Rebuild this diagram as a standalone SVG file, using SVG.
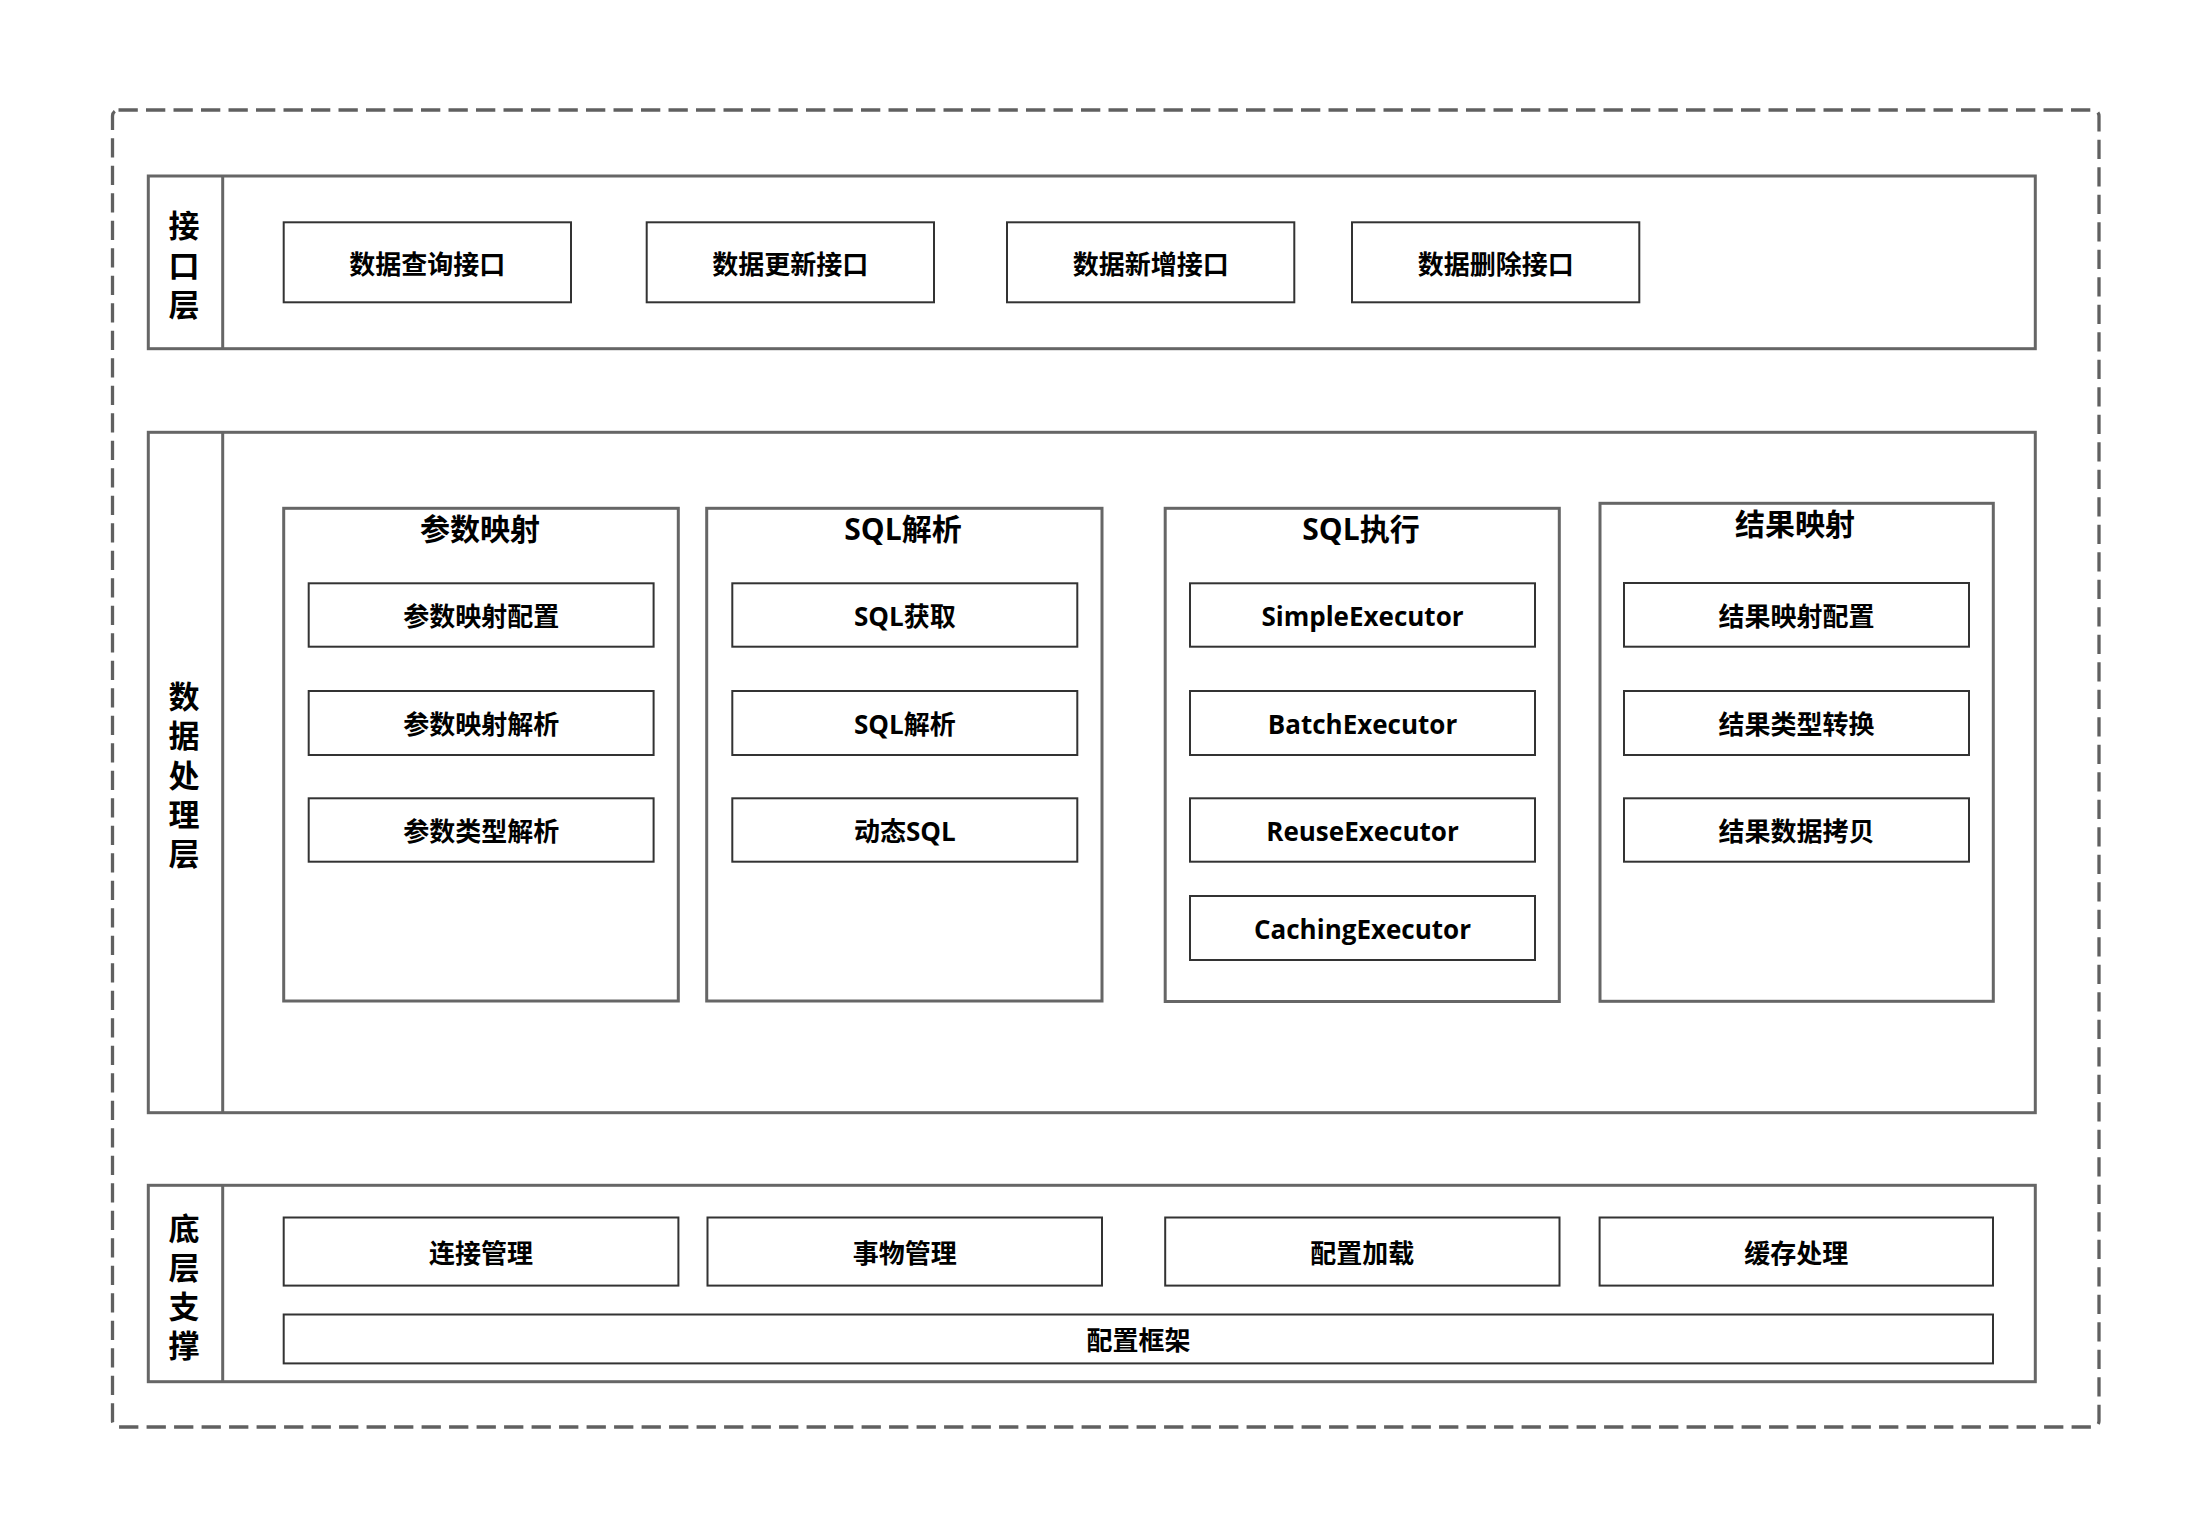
<svg xmlns="http://www.w3.org/2000/svg" width="2212" height="1528" viewBox="0 0 2212 1528">
<style>
.outer{fill:none;stroke:#606060;stroke-width:3.3;stroke-dasharray:19.3 8.2}
.layer{fill:#fff;stroke:#666;stroke-width:3}
.div{stroke:#666;stroke-width:3}
.cont{fill:#fff;stroke:#666;stroke-width:3}
.box{fill:#fff;stroke:#333;stroke-width:2}
text{font-family:"Open Sans","Noto Sans CJK SC",sans-serif;font-weight:bold;fill:#000;text-anchor:middle}
.t{font-size:26px}
.h{font-size:30px}
.v{font-size:31px}
</style>
<rect width="2212" height="1528" fill="#fff"/>
<rect id="frame" class="outer" x="112.5" y="110" width="1986.5" height="1317" rx="6"/>

<g id="layer-interface">
<rect class="layer" x="148.3" y="176" width="1887" height="172.7"/>
<line class="div" x1="222.7" y1="176" x2="222.7" y2="348.7"/>
<text class="v"><tspan x="184" y="237">接</tspan><tspan x="184" y="276.5">口</tspan><tspan x="184" y="316">层</tspan></text>
</g>
<g id="n-query"><rect class="box" x="283.7" y="222.3" width="287.3" height="80"/><text class="t" x="427.3" y="274">数据查询接口</text></g>
<g id="n-update"><rect class="box" x="646.7" y="222.3" width="287.3" height="80"/><text class="t" x="790.3" y="274">数据更新接口</text></g>
<g id="n-insert"><rect class="box" x="1007" y="222.3" width="287.3" height="80"/><text class="t" x="1150.7" y="274">数据新增接口</text></g>
<g id="n-delete"><rect class="box" x="1352" y="222.3" width="287.3" height="80"/><text class="t" x="1495.7" y="274">数据删除接口</text></g>

<g id="layer-processing">
<rect class="layer" x="148.3" y="432.3" width="1887" height="680.4"/>
<line class="div" x1="222.7" y1="432.3" x2="222.7" y2="1112.7"/>
<text class="v"><tspan x="184" y="708">数</tspan><tspan x="184" y="747.3">据</tspan><tspan x="184" y="786.6">处</tspan><tspan x="184" y="825.9">理</tspan><tspan x="184" y="865.2">层</tspan></text>
</g>

<g id="c-param">
<rect class="cont" x="283.7" y="508.3" width="394.6" height="492.7"/>
<text class="h" x="480" y="540">参数映射</text>
</g>
<g id="n-param-config"><rect class="box" x="308.7" y="583.3" width="344.9" height="63.4"/><text class="t" x="481.2" y="626">参数映射配置</text></g>
<g id="n-param-parse"><rect class="box" x="308.7" y="691" width="344.9" height="64"/><text class="t" x="481.2" y="734">参数映射解析</text></g>
<g id="n-param-type"><rect class="box" x="308.7" y="798.3" width="344.9" height="63.4"/><text class="t" x="481.2" y="841">参数类型解析</text></g>

<g id="c-sqlparse">
<rect class="cont" x="706.7" y="508.3" width="395.3" height="492.7"/>
<text class="h" x="903" y="540">SQL解析</text>
</g>
<g id="n-sql-get"><rect class="box" x="732.3" y="583.3" width="345" height="63.4"/><text class="t" x="904.8" y="626">SQL获取</text></g>
<g id="n-sql-parse"><rect class="box" x="732.3" y="691" width="345" height="64"/><text class="t" x="904.8" y="734">SQL解析</text></g>
<g id="n-sql-dyn"><rect class="box" x="732.3" y="798.3" width="345" height="63.4"/><text class="t" x="904.8" y="841">动态SQL</text></g>

<g id="c-sqlexec">
<rect class="cont" x="1165.2" y="508.3" width="394.1" height="493.2"/>
<text class="h" x="1361" y="540">SQL执行</text>
</g>
<g id="n-simple"><rect class="box" x="1190" y="583.3" width="345" height="63.4"/><text class="t" x="1362.5" y="626">SimpleExecutor</text></g>
<g id="n-batch"><rect class="box" x="1190" y="691" width="345" height="64"/><text class="t" x="1362.5" y="734">BatchExecutor</text></g>
<g id="n-reuse"><rect class="box" x="1190" y="798.3" width="345" height="63.4"/><text class="t" x="1362.5" y="841">ReuseExecutor</text></g>
<g id="n-caching"><rect class="box" x="1190" y="896" width="345" height="64"/><text class="t" x="1362.5" y="939">CachingExecutor</text></g>

<g id="c-result">
<rect class="cont" x="1600" y="503.3" width="393.3" height="498"/>
<text class="h" x="1795" y="535">结果映射</text>
</g>
<g id="n-res-config"><rect class="box" x="1624" y="583" width="345" height="63.7"/><text class="t" x="1796.5" y="626">结果映射配置</text></g>
<g id="n-res-type"><rect class="box" x="1624" y="691" width="345" height="64"/><text class="t" x="1796.5" y="734">结果类型转换</text></g>
<g id="n-res-copy"><rect class="box" x="1624" y="798.3" width="345" height="63.4"/><text class="t" x="1796.5" y="841">结果数据拷贝</text></g>

<g id="layer-base">
<rect class="layer" x="148.3" y="1185.3" width="1887" height="196.4"/>
<line class="div" x1="222.7" y1="1185.3" x2="222.7" y2="1381.7"/>
<text class="v"><tspan x="184" y="1239.5">底</tspan><tspan x="184" y="1278.7">层</tspan><tspan x="184" y="1317.9">支</tspan><tspan x="184" y="1357.1">撑</tspan></text>
</g>
<g id="n-conn"><rect class="box" x="283.7" y="1217.5" width="394.7" height="68.1"/><text class="t" x="481" y="1263">连接管理</text></g>
<g id="n-tx"><rect class="box" x="707.5" y="1217.5" width="394.5" height="68.1"/><text class="t" x="904.8" y="1263">事物管理</text></g>
<g id="n-load"><rect class="box" x="1165.2" y="1217.5" width="394.3" height="68.1"/><text class="t" x="1362.3" y="1263">配置加载</text></g>
<g id="n-cache"><rect class="box" x="1599.6" y="1217.5" width="393.4" height="68.1"/><text class="t" x="1796.3" y="1263">缓存处理</text></g>
<g id="n-framework"><rect class="box" x="283.7" y="1314.5" width="1709.3" height="48.9"/><text class="t" x="1138.4" y="1350">配置框架</text></g>

<g id="connectors"></g>
</svg>
